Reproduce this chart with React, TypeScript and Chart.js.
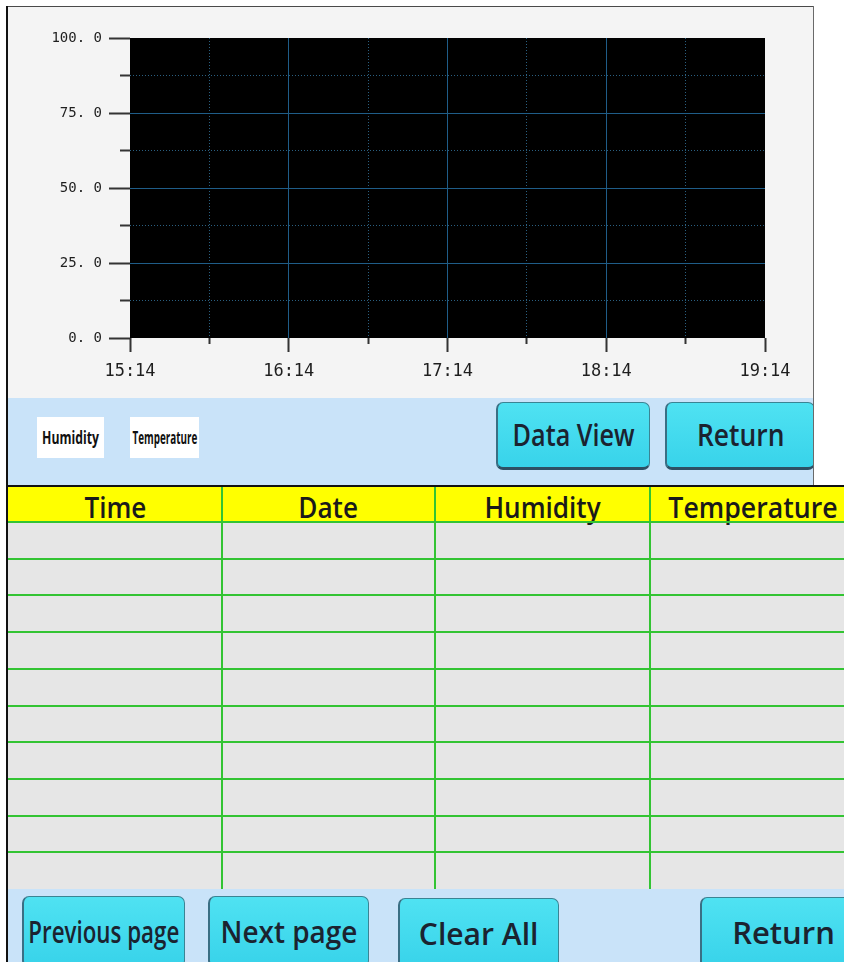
import React, { useEffect, useRef } from 'react';
import { Chart, registerables } from 'chart.js';

Chart.register(...registerables);

// ---- chart data ----
const xTickLabels = ['15:14', '16:14', '17:14', '18:14', '19:14'];
const xMaxMinutes = 240;
const xStepMinutes = 30;
const xMajorMinutes = 60;
const yTickLabels = ['0. 0', '25. 0', '50. 0', '75. 0', '100. 0'];
const yMin = 0;
const yMax = 100;
const yStep = 12.5;
const yMajorStep = 25;
const seriesNames = ['Humidity', 'Temperature'];
const humidityValues: { x: number; y: number }[] = [];
const temperatureValues: { x: number; y: number }[] = [];

// ---- table / ui text ----
const tableHeaders = ['Time', 'Date', 'Humidity', 'Temperature'];
const tableRowCount = 10;
const topButtons = ['Data View', 'Return'];
const bottomButtons = ['Previous page', 'Next page', 'Clear All', 'Return'];

const chartAreaBg = {
  id: 'chartAreaBg',
  beforeDraw(chart: any) {
    const { ctx, chartArea } = chart;
    if (!chartArea) return;
    ctx.save();
    ctx.fillStyle = '#000000';
    ctx.fillRect(chartArea.left, chartArea.top, chartArea.right - chartArea.left, chartArea.bottom - chartArea.top);
    ctx.restore();
  },
};

const BTN_FONT = '"Open Sans", "Noto Sans", sans-serif';

function Button({ label, left, top, width, height, fontSize, scale }: any) {
  return (
    <div
      style={{
        position: 'absolute',
        left,
        top,
        width,
        height,
        boxSizing: 'border-box',
        background: 'linear-gradient(#4fe2f2, #38d3ea)',
        border: '1px solid #3a8494',
        borderBottom: '3px solid #2d5064',
        borderLeft: '2px solid #3a6f84',
        borderRadius: 7,
        display: 'flex',
        alignItems: 'center',
        justifyContent: 'center',
        overflow: 'hidden',
      }}
    >
      <span
        style={{
          display: 'inline-block',
          fontFamily: BTN_FONT,
          fontWeight: 600,
          fontSize,
          color: '#1b2330',
          whiteSpace: 'nowrap',
          transform: `scaleX(${scale})`,
          lineHeight: 1,
        }}
      >
        {label}
      </span>
    </div>
  );
}

export default function App() {
  const canvasRef = useRef<HTMLCanvasElement | null>(null);

  useEffect(() => {
    if (!canvasRef.current) return;
    const isXMajor = (v: number) => v % xMajorMinutes === 0;
    const isYMajor = (v: number) => v % yMajorStep === 0;
    const chart = new Chart(canvasRef.current, {
      type: 'line',
      data: {
        datasets: [
          { label: seriesNames[0], data: humidityValues, borderColor: '#00ff00', pointRadius: 0 },
          { label: seriesNames[1], data: temperatureValues, borderColor: '#ff0000', pointRadius: 0 },
        ],
      },
      options: {
        animation: false,
        responsive: false,
        events: [],
        layout: { padding: { top: 30, right: 49, left: 0, bottom: 0 } },
        plugins: { legend: { display: false }, tooltip: { enabled: false }, title: { display: false } },
        scales: {
          x: {
            type: 'linear',
            min: 0,
            max: xMaxMinutes,
            afterFit: (s: any) => {
              s.height = 60;
            },
            afterBuildTicks: (s: any) => {
              const t = [];
              for (let v = 0; v <= xMaxMinutes; v += xStepMinutes) t.push({ value: v });
              s.ticks = t;
            },
            ticks: {
              autoSkip: false,
              maxRotation: 0,
              padding: 9,
              color: '#1e1e1e',
              font: { family: '"DejaVu Sans Mono", monospace', size: 17 },
              callback: (v: any) => (isXMajor(Number(v)) ? xTickLabels[Number(v) / xMajorMinutes] : ''),
            },
            border: {
              display: false,
              dash: (c: any) => (c.tick && !isXMajor(c.tick.value) ? [1, 2] : []),
            },
            grid: {
              color: (c: any) => {
                const v = c.tick ? c.tick.value : -1;
                if (v === 0 || v === xMaxMinutes) return 'rgba(0,0,0,0)';
                return isXMajor(v) ? '#1f5d88' : '#2a5f80';
              },
              lineWidth: 1,
              tickLength: 14,
              tickColor: '#333333',
              tickWidth: 2,
              tickBorderDash: (c: any) => (c.tick && !isXMajor(c.tick.value) ? [6, 40] : []),
            },
          },
          y: {
            type: 'linear',
            min: yMin,
            max: yMax,
            afterFit: (s: any) => {
              s.width = 122;
            },
            afterBuildTicks: (s: any) => {
              const t = [];
              for (let v = yMin; v <= yMax; v += yStep) t.push({ value: v });
              s.ticks = t;
            },
            ticks: {
              autoSkip: false,
              padding: 7,
              color: '#1e1e1e',
              font: { family: '"DejaVu Sans Mono", monospace', size: 14 },
              callback: (v: any) => (isYMajor(Number(v)) ? yTickLabels[Number(v) / yMajorStep] : ''),
            },
            border: {
              display: false,
              dash: (c: any) => (c.tick && !isYMajor(c.tick.value) ? [1, 2] : []),
            },
            grid: {
              color: (c: any) => {
                const v = c.tick ? c.tick.value : -1;
                if (v === yMin || v === yMax) return 'rgba(0,0,0,0)';
                return isYMajor(v) ? '#1f5d88' : '#2a5f80';
              },
              lineWidth: 1,
              tickLength: 21,
              tickColor: '#333333',
              tickWidth: 2,
              tickBorderDash: (c: any) => (c.tick && !isYMajor(c.tick.value) ? [0, 11, 10, 100] : []),
            },
          },
        },
      },
      plugins: [chartAreaBg],
    } as any);
    return () => chart.destroy();
  }, []);

  const colEdges = [8, 222, 435, 650, 844];
  const headerTop = 487;
  const headerBottom = 522;
  const tableBottom = 889;
  const rowH = (tableBottom - headerBottom) / tableRowCount;
  const green = '#33c433';

  const headerScales = [0.9, 0.9, 0.9, 0.92];
  const legendBoxes = [
    { l: 37, w: 67, s: 0.72 },
    { l: 130, w: 69, s: 0.58 },
  ];

  return (
    <div style={{ position: 'absolute', left: 0, top: 0, width: 844, height: 962, overflow: 'hidden', background: '#ffffff' }}>
      {/* top panel */}
      <div style={{ position: 'absolute', left: 8, top: 7, width: 805, height: 391, background: '#f4f4f4' }} />
      <div style={{ position: 'absolute', left: 6, top: 6, width: 808, height: 1, background: '#4a4a4a' }} />
      <canvas ref={canvasRef} width={806} height={390} style={{ position: 'absolute', left: 8, top: 8, width: 806, height: 390 }} />

      {/* legend strip */}
      <div style={{ position: 'absolute', left: 8, top: 398, width: 805, height: 88, background: '#c9e3f9' }} />
      {legendBoxes.map((b, i) => (
        <div
          key={i}
          style={{
            position: 'absolute',
            left: b.l,
            top: 417,
            width: b.w,
            height: 41,
            background: '#ffffff',
            display: 'flex',
            alignItems: 'center',
            justifyContent: 'center',
          }}
        >
          <span
            style={{
              display: 'inline-block',
              fontFamily: BTN_FONT,
              fontWeight: 700,
              fontSize: 17,
              color: '#111',
              transform: `scaleX(${b.s})`,
              whiteSpace: 'nowrap',
              lineHeight: 1,
            }}
          >
            {seriesNames[i]}
          </span>
        </div>
      ))}
      <Button label={topButtons[0]} left={496} top={402} width={154} height={68} fontSize={30} scale={0.84} />
      <Button label={topButtons[1]} left={665} top={402} width={150} height={68} fontSize={30} scale={0.88} />
      <div style={{ position: 'absolute', left: 813, top: 6, width: 1, height: 480, background: '#6a6a6a' }} />
      <div style={{ position: 'absolute', left: 814, top: 6, width: 30, height: 479, background: '#ffffff' }} />

      {/* table */}
      <div style={{ position: 'absolute', left: 6, top: 485, width: 838, height: 2, background: '#111' }} />
      <div style={{ position: 'absolute', left: 8, top: headerTop, width: 836, height: headerBottom - headerTop, background: '#ffff00' }} />
      <div style={{ position: 'absolute', left: 8, top: headerBottom, width: 836, height: tableBottom - headerBottom, background: '#e6e6e6' }} />
      {tableHeaders.map((h, i) => (
        <div
          key={h}
          style={{
            position: 'absolute',
            left: colEdges[i],
            top: headerTop,
            width: colEdges[i + 1] - colEdges[i] + (i === 3 ? 12 : 0),
            height: headerBottom - headerTop,
            display: 'flex',
            alignItems: 'center',
            justifyContent: 'center',
          }}
        >
          <span
            style={{
              display: 'inline-block',
              fontFamily: BTN_FONT,
              fontWeight: 600,
              fontSize: 29,
              color: '#1a1a1a',
              transform: `scaleX(${headerScales[i]})`,
              whiteSpace: 'nowrap',
              lineHeight: 1,
              marginTop: 4,
            }}
          >
            {h}
          </span>
        </div>
      ))}
      {Array.from({ length: tableRowCount }).map((_, k) => (
        <div
          key={'h' + k}
          style={{ position: 'absolute', left: 8, top: Math.round(headerBottom + rowH * k) - 1, width: 836, height: 2, background: green }}
        />
      ))}
      {colEdges.slice(1, 4).map((x) => (
        <div key={'v' + x} style={{ position: 'absolute', left: x - 1, top: headerTop, width: 2, height: tableBottom - headerTop, background: green }} />
      ))}

      {/* bottom bar */}
      <div style={{ position: 'absolute', left: 8, top: tableBottom, width: 836, height: 962 - tableBottom, background: '#c9e3f9' }} />
      <Button label={bottomButtons[0]} left={22} top={896} width={163} height={72} fontSize={31} scale={0.72} />
      <Button label={bottomButtons[1]} left={208} top={896} width={161} height={72} fontSize={31} scale={0.9} />
      <Button label={bottomButtons[2]} left={398} top={898} width={161} height={72} fontSize={31} scale={0.97} />
      <Button label={bottomButtons[3]} left={700} top={897} width={166} height={72} fontSize={31} scale={1.0} />

      {/* left frame line */}
      <div style={{ position: 'absolute', left: 6, top: 6, width: 2, height: 956, background: '#111' }} />
    </div>
  );
}
